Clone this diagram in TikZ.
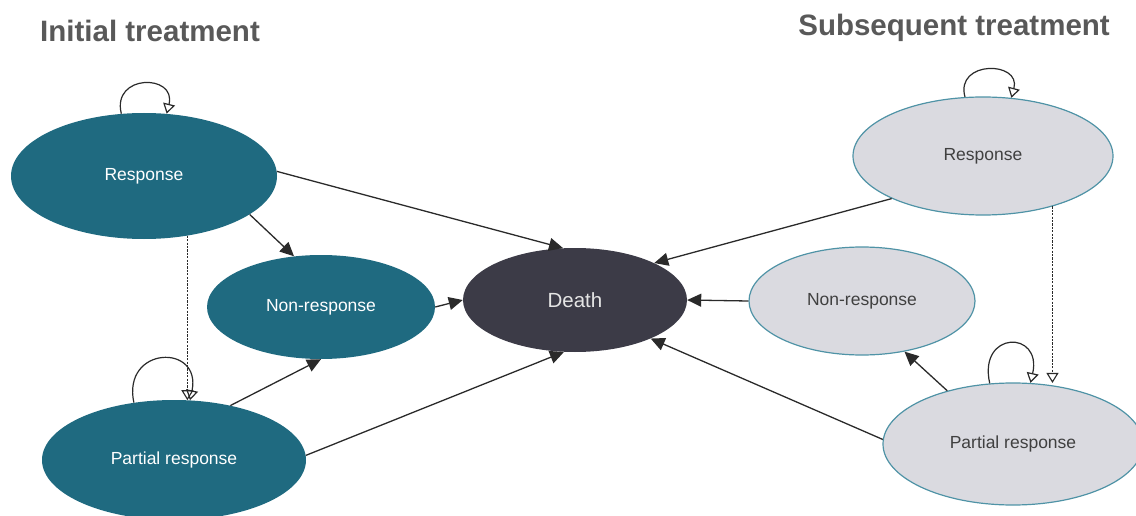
\documentclass[tikz,border=0pt]{standalone}
\usepackage{fontspec}
\setmainfont{Liberation Sans}
\usetikzlibrary{shapes.geometric,arrows.meta}
\definecolor{tealA}{HTML}{1F6A80}
\definecolor{tealB}{HTML}{4F93A6}
\definecolor{greyA}{HTML}{DADAE0}
\definecolor{deathC}{HTML}{3C3B47}
\definecolor{lineC}{HTML}{2A2A2A}
\definecolor{ttlC}{HTML}{595959}
\begin{document}
\begin{tikzpicture}[x=1pt,y=-1pt,
      st/.style={ellipse,inner sep=0pt,font=\fontsize{17.5}{18}\selectfont},
      init/.style={st,fill=tealA,text=white},
      subs/.style={st,fill=greyA,draw=tealB,line width=1.2pt,text=black!75},
      ttl/.style={font=\fontsize{29.5}{30}\selectfont\bfseries,text=ttlC,inner sep=0pt},
      >={Triangle[length=14pt,width=13pt]},
      link/.style={draw=lineC,line width=1.3pt,->},
      slf/.style={draw=lineC,line width=1.2pt,-{Triangle[open,length=10pt,width=12pt]}},
      dot/.style={draw=lineC,line width=1.1pt,dash pattern=on 2.2pt off 1.2pt,
        -{Triangle[open,length=10pt,width=12pt]}}]
  \useasboundingbox (0,0) rectangle (1136,516);
  \node[ttl,anchor=west] (ti) at (40,31) {Initial treatment};
  \node[ttl,anchor=east] (ts) at (1110,28) {Subsequent treatment};
  % initial treatment
  \node[init,minimum width=266pt,minimum height=126pt] (r1) at (144,176) {Response};
  \node[init,minimum width=228pt,minimum height=104pt] (n1) at (321,307) {Non-response};
  \node[init,minimum width=264pt,minimum height=120pt] (p1) at (174,460) {Partial response};
  % death
  \node[st,fill=deathC,text=white!90!black,minimum width=224pt,minimum height=104pt,
    font=\fontsize{20.5}{21}\selectfont] (d) at (575,300) {Death};
  % subsequent treatment
  \node[subs,minimum width=260pt,minimum height=118pt] (r2) at (983,156) {Response};
  \node[subs,minimum width=226pt,minimum height=108pt] (n2) at (862,301) {Non-response};
  \node[subs,minimum width=260pt,minimum height=122pt] (p2) at (1013,444) {Partial response};
  % links
  \draw[link](r1.-20)--(n1.118);
  \draw[link](r1.2)--(d.103);
  \draw[link](n1.0)--(d.180);
  \draw[link](p1.44)--(n1.-90);
  \draw[link](p1.2)--(d.-102);
  \draw[link](r2.205)--(d.25);
  \draw[link](n2.180)--(d.0);
  \draw[link](p2.178)--(d.-27);
  \draw[link](p2.141)--(n2.-50);
  \draw[dot](r1.-54)--(r1.-54 |- p1.76);
  \draw[dot](r2.-36)--(r2.-36 |- p2.74);
  % loops
  \draw[slf](r1.110)..controls +(-10,-40) and +(10,-40)..(r1.70);
  \draw[slf](p1.125)..controls +(-12,-57) and +(12,-57)..(p1.75);
  \draw[slf](r2.107)..controls +(-10,-37) and +(10,-37)..(r2.64);
  \draw[slf](p2.111)..controls +(-12,-53) and +(12,-53)..(p2.74);
\end{tikzpicture}
\end{document}
